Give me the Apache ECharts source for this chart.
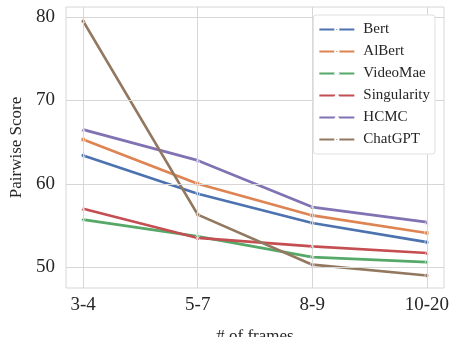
<!DOCTYPE html>
<html lang="en">
<head>
<meta charset="UTF-8">
<title>Pairwise Score</title>
<style>
    * { padding: 0; margin: 0; box-sizing: border-box; }
    html, body, #chart { width: 100%; height: 100%; background: #fff; }
</style>
</head>
<body>
<div id="chart"></div>
<script src="https://cdn.jsdelivr.net/npm/echarts@6/dist/echarts.min.js"></script>
<script>
    // x categories
    const frames = ['3-4', '5-7', '8-9', '10-20']
    const xTicks = [0, 1, 2, 3]
    const yTicks = [50, 60, 70, 80]

    // series values
    const bert = [63.4, 58.8, 55.3, 53.0]
    const albert = [65.3, 60.0, 56.2, 54.1]
    const videoMae = [55.7, 53.7, 51.2, 50.6]
    const singularity = [57.0, 53.5, 52.5, 51.7]
    const hcmc = [66.5, 62.8, 57.2, 55.4]
    const chatgpt = [79.5, 56.3, 50.3, 49.0]

    const names = ['Bert', 'AlBert', 'VideoMae', 'Singularity', 'HCMC', 'ChatGPT']
    const values = [bert, albert, videoMae, singularity, hcmc, chatgpt]
    const colors = ['#4C72B0', '#DD8452', '#55A868', '#C44E52', '#8172B3', '#937860']
    const symbols = ['circle', 'rect', 'diamond', 'triangle', 'triangle', 'circle']

    const font = 'Liberation Serif, Times New Roman, serif'
    const gridColor = '#d6d6d6'

    var myChart = echarts.init(document.getElementById('chart'))

    const series = names.map((name, i) => ({
        name: name,
        type: 'line',
        z: 3,
        data: values[i].map((v, j) => [j, v]),
        symbol: symbols[i],
        symbolSize: 4,
        showSymbol: true,
        lineStyle: { width: 2.7, color: colors[i] },
        itemStyle: { color: colors[i], borderColor: '#fff', borderWidth: 0.6 },
        emphasis: { disabled: true },
        animation: false
    }))

    // grid lines at the tick values (axis splitLines start from min)
    series.push({
        type: 'line',
        z: 1,
        data: [],
        silent: true,
        animation: false,
        markLine: {
            silent: true,
            symbol: 'none',
            animation: false,
            label: { show: false },
            lineStyle: { color: gridColor, width: 1, type: 'solid' },
            data: yTicks.map(v => ({ yAxis: v })).concat(xTicks.map(v => ({ xAxis: v })))
        }
    })

    var option = {
        backgroundColor: '#fff',
        color: colors,
        grid: {
            left: 66, right: 11, top: 7, bottom: 49,
            outerBoundsMode: 'none',
            containLabel: false,
            show: true, borderColor: gridColor, borderWidth: 1
        },
        legend: {
            right: 20, top: 15,
            z: 10,
            orient: 'vertical',
            itemWidth: 35, itemHeight: 4, itemGap: 7,
            padding: [7, 5, 7, 5],
            borderColor: '#e0e0e0', borderWidth: 1, borderRadius: 3,
            backgroundColor: '#fff',
            textStyle: { fontFamily: font, fontSize: 15, color: '#262626', padding: [0, 0, 0, 4] },
            data: names
        },
        xAxis: {
            type: 'value',
            min: -0.15, max: 3.15,
            name: '# of frames',
            nameLocation: 'middle', nameGap: 40,
            nameTextStyle: { fontFamily: font, fontSize: 17, color: '#262626' },
            axisLine: { show: false },
            axisTick: { show: false },
            axisLabel: {
                fontFamily: font, fontSize: 19, color: '#262626', margin: 8,
                customValues: xTicks,
                formatter: v => frames[v]
            },
            splitLine: { show: false }
        },
        yAxis: {
            type: 'value',
            min: 47.5, max: 81.2,
            name: 'Pairwise Score',
            nameLocation: 'middle', nameGap: 41,
            nameTextStyle: { fontFamily: font, fontSize: 17, color: '#262626' },
            axisLine: { show: false },
            axisTick: { show: false },
            axisLabel: {
                fontFamily: font, fontSize: 19, color: '#262626', margin: 11,
                customValues: yTicks
            },
            splitLine: { show: false }
        },
        series: series
    }
    myChart.setOption(option)
</script>
</body>
</html>
